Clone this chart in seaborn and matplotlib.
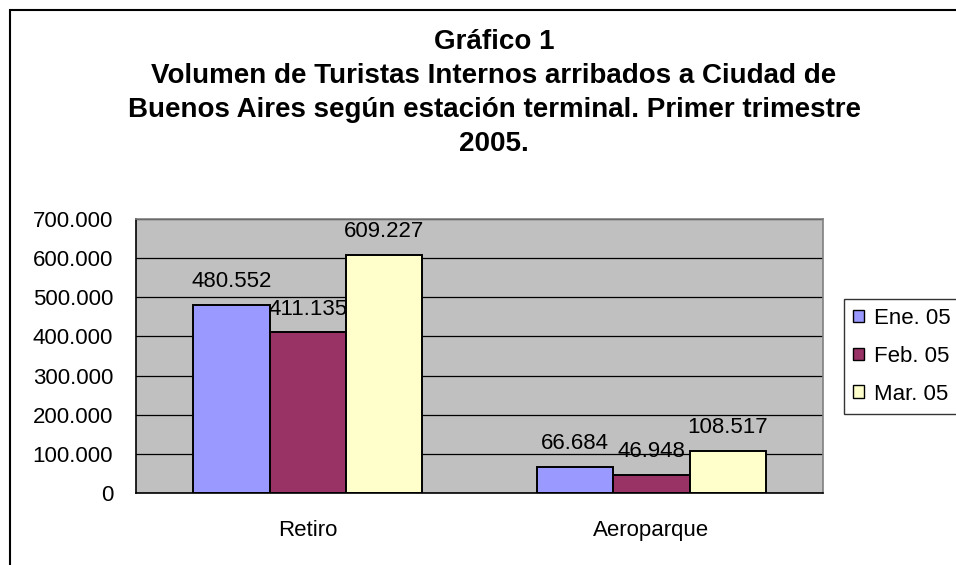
import pandas as pd
import numpy as np
import matplotlib
matplotlib.use('Agg')
import matplotlib.pyplot as plt
import seaborn as sns
from matplotlib.patches import Patch, Rectangle
from matplotlib.ticker import FuncFormatter

# Datos del gráfico
estaciones = ['Retiro', 'Aeroparque']
meses = ['Ene. 05', 'Feb. 05', 'Mar. 05']
ene = [480552, 66684]
feb = [411135, 46948]
mar = [609227, 108517]
colores = ['#9999FF', '#993366', '#FFFFCC']

titulo = ('Gráfico 1\nVolumen de Turistas Internos arribados a Ciudad de\n'
          'Buenos Aires según estación terminal. Primer trimestre\n2005.')

df = pd.DataFrame({
    'estacion': estaciones * 3,
    'mes': [m for m in meses for _ in estaciones],
    'valor': ene + feb + mar,
})

sns.set_style('white')
plt.rcParams['font.family'] = ['Liberation Sans', 'DejaVu Sans']
plt.rcParams['text.color'] = 'black'
plt.rcParams['xtick.color'] = 'black'
plt.rcParams['ytick.color'] = 'black'
plt.rcParams['xtick.labelcolor'] = 'black'
plt.rcParams['ytick.labelcolor'] = 'black'

fig = plt.figure(figsize=(9.56, 5.65), dpi=100)
ax = fig.add_axes([0.1423, 0.1274, 0.7187, 0.485])

sns.barplot(data=df, x='estacion', y='valor', hue='mes', order=estaciones,
            hue_order=meses, palette=dict(zip(meses, colores)), width=0.6667,
            edgecolor='black', linewidth=1.4, saturation=1, legend=False, ax=ax)

ax.set_facecolor('#C0C0C0')
ax.set_xlim(-0.5, 1.5)
ax.set_ylim(0, 700000)
ax.set_yticks(np.arange(0, 700001, 100000))
ax.yaxis.set_major_formatter(FuncFormatter(lambda v, p: f'{int(v):,}'.replace(',', '.')))
ax.set_axisbelow(True)
ax.yaxis.grid(True, color='black', linewidth=0.9)
ax.xaxis.grid(False)
ax.set_xlabel('')
ax.set_ylabel('')

# Ticks de categoría en los bordes
ax.set_xticks([-0.5, 0.5, 1.5], minor=False)
ax.set_xticklabels([])
ax.set_xticks([0, 1], minor=True)
ax.set_xticklabels(estaciones, minor=True, fontsize=16)
ax.tick_params(axis='x', which='minor', length=0, pad=19.5)
ax.tick_params(axis='x', which='major', length=6, width=1, color='black', direction='out')
ax.tick_params(axis='y', length=6, width=1, color='black', direction='out', labelsize=16, pad=10.5)

for lado in ['top', 'right']:
    ax.spines[lado].set_color('#808080')
    ax.spines[lado].set_linewidth(1.2)
for lado in ['left', 'bottom']:
    ax.spines[lado].set_color('black')
    ax.spines[lado].set_linewidth(1.2)

for cont in ax.containers:
    ax.bar_label(cont, labels=[f'{int(v):,}'.replace(',', '.') for v in cont.datavalues],
                 padding=9, fontsize=16, color='black')

fig.suptitle(titulo, x=494 / 956, y=0.948, fontsize=20, fontweight='bold',
             linespacing=1.4, color='black')

handles = [Patch(facecolor=c, edgecolor='black', linewidth=1) for c in colores]
leg = fig.legend(handles, meses, loc='upper left', bbox_to_anchor=(844 / 956, 266 / 565),
                 frameon=True, fancybox=False, fontsize=16, handlelength=0.5,
                 handleheight=0.5, handletextpad=0.45, labelspacing=0.76,
                 borderpad=0.4, borderaxespad=0, labelcolor='black')
leg.get_frame().set_edgecolor('black')
leg.get_frame().set_linewidth(1)

# Marco exterior del gráfico
fig.patches.append(Rectangle((10 / 956, -0.1), 1.2, 0.1 + (565 - 10) / 565,
                             transform=fig.transFigure, fill=False,
                             edgecolor='black', linewidth=1.5))

fig.savefig('out.png', dpi=100)
